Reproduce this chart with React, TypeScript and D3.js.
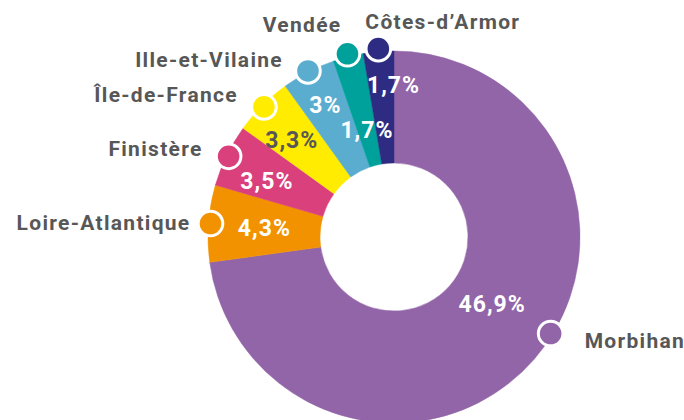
import React from "react";
import * as d3 from "d3";

// ---- data ----
const regions = [
  "Morbihan",
  "Loire-Atlantique",
  "Finistère",
  "Île-de-France",
  "Ille-et-Vilaine",
  "Vendée",
  "Côtes-d’Armor",
];
const shares = [46.9, 4.3, 3.5, 3.3, 3, 1.7, 1.7];
const shareLabels = ["46,9%", "4,3%", "3,5%", "3,3%", "3%", "1,7%", "1,7%"];
const colors = ["#9265A8", "#F39200", "#D9407C", "#FFEC00", "#5BADD0", "#00A19A", "#2E2C82"];

// ---- layout (not data) ----
const W = 684;
const H = 420;
const CX = 394;
const CY = 237;
const R_OUT = 186;
const R_IN = 74;
const TEXT = "#575757";
const FONT = "Roboto, 'DejaVu Sans', sans-serif";

// where along each slice (fraction of its angle) the marker and value label sit
const markerFrac = [0.464, 0.5, 0.5, 0.5, 0.5, 0.5, 0.5];
const markerRadius = [184, 184, 184, 184, 187, 189, 189];
const valueFrac = [0.4745, 0.5, 0.39, 0.42, 0.5, 0.5, 0.98];
const valueRadius = [119, 130, 139, 141, 149, 110, 152];
const valueDark = [false, false, false, true, false, false, false];
// name label offsets relative to marker
const nameLayout = [
  { anchor: "start", dx: 34, dy: 14 },
  { anchor: "end", dx: -20, dy: 6 },
  { anchor: "end", dx: -26, dy: 0 },
  { anchor: "end", dx: -26, dy: -5 },
  { anchor: "end", dx: -25, dy: -4 },
  { anchor: "end", dx: -6, dy: -22 },
  { anchor: "start", dx: -13, dy: -20 },
];

export default function App() {
  const data = regions.map((name, i) => ({ name, value: shares[i], i }));
  const pie = d3
    .pie<{ name: string; value: number; i: number }>()
    .sort(null)
    .value((d) => d.value)
    .startAngle(0)
    .endAngle(2 * Math.PI);
  const arcs = pie(data);
  const arc = d3
    .arc<d3.PieArcDatum<{ name: string; value: number; i: number }>>()
    .innerRadius(R_IN)
    .outerRadius(R_OUT);

  const polar = (a: number, r: number) => [r * Math.sin(a), -r * Math.cos(a)];

  return (
    <svg
      width={W}
      height={H}
      style={{ position: "absolute", left: 0, top: 0, display: "block", background: "#fff" }}
      fontFamily={FONT}
    >
      <g transform={`translate(${CX},${CY})`}>
        {arcs.map((a) => (
          <path key={a.data.name} d={arc(a) || ""} fill={colors[a.data.i]} stroke={colors[a.data.i]} strokeWidth={0.5} />
        ))}
        {arcs.map((a) => {
          const i = a.data.i;
          const ang = a.startAngle + (a.endAngle - a.startAngle) * valueFrac[i];
          const [x, y] = polar(ang, valueRadius[i]);
          return (
            <text
              key={"v" + i}
              x={x}
              y={y + 8}
              textAnchor="middle"
              fontSize={23}
              fontWeight={700}
              letterSpacing={1}
              fill={valueDark[i] ? TEXT : "#fff"}
            >
              {shareLabels[i]}
            </text>
          );
        })}
        {arcs.map((a) => {
          const i = a.data.i;
          const ang = a.startAngle + (a.endAngle - a.startAngle) * markerFrac[i];
          const [x, y] = polar(ang, markerRadius[i]);
          const L = nameLayout[i];
          return (
            <g key={"m" + i}>
              <circle cx={x} cy={y} r={12.3} fill={colors[i]} stroke="#fff" strokeWidth={3} />
              <text
                x={x + L.dx}
                y={y + L.dy}
                textAnchor={L.anchor as any}
                fontSize={21}
                fontWeight={700}
                letterSpacing={1.3}
                fill={TEXT}
              >
                {a.data.name}
              </text>
            </g>
          );
        })}
      </g>
    </svg>
  );
}
